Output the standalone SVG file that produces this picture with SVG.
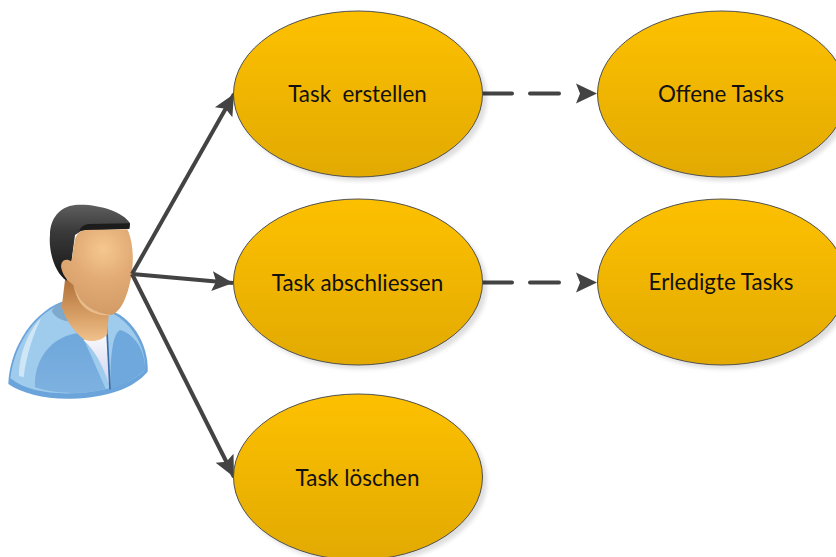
<svg xmlns="http://www.w3.org/2000/svg" width="836" height="557" viewBox="0 0 836 557">
<style>
.uc{fill:url(#gold);stroke:#505050;stroke-width:1}
.sh{fill:#000;opacity:.13;filter:url(#blur)}
.lb{font-family:Lato,"Open Sans",sans-serif;font-size:22.400px;fill:#111;text-anchor:middle;dominant-baseline:central;white-space:pre}
.c{fill:none;stroke:#434343;stroke-width:4}
.d{stroke-dasharray:29 18;stroke-linecap:round}
.ah{fill:#434343}
</style>
<defs>
<linearGradient id="gold" x1="0" y1="0" x2="0" y2="1"><stop offset="0" stop-color="#fdc000"/><stop offset="1" stop-color="#e2aa02"/></linearGradient>
<filter id="blur" x="-10%" y="-10%" width="120%" height="120%"><feGaussianBlur stdDeviation="2"/></filter>
<filter id="soft" x="-10%" y="-10%" width="120%" height="120%"><feGaussianBlur stdDeviation="3"/></filter>
<marker id="a" markerUnits="userSpaceOnUse" markerWidth="24" markerHeight="24" refX="21" refY="12" orient="auto"><path d="M0,2 L21,12 L0,22 L4,12Z" class="ah"/></marker>
<radialGradient id="skin" gradientUnits="userSpaceOnUse" cx="190" cy="150" r="200"><stop offset="0" stop-color="#f5c78f"/><stop offset=".45" stop-color="#e2ab75"/><stop offset="1" stop-color="#d29a64"/></radialGradient>
<linearGradient id="neck" x1="0" y1="0" x2="0" y2="1"><stop offset="0" stop-color="#b0723a"/><stop offset=".6" stop-color="#d8a066"/><stop offset="1" stop-color="#f0c28e"/></linearGradient>
<linearGradient id="hair" x1="0" y1="0" x2="0" y2="1"><stop offset="0" stop-color="#5e5e5e"/><stop offset=".35" stop-color="#3a3a3a"/><stop offset="1" stop-color="#161616"/></linearGradient>
<linearGradient id="jacket" x1="0" y1="0" x2="0" y2="1"><stop offset="0" stop-color="#9fcbec"/><stop offset="1" stop-color="#9fcbec"/></linearGradient>
<linearGradient id="inner" x1="0" y1="0" x2="0" y2="1"><stop offset="0" stop-color="#6ea7db"/><stop offset="1" stop-color="#7db1e0"/></linearGradient>
<linearGradient id="shirt" x1="0" y1="0" x2="0" y2="1"><stop offset="0" stop-color="#fafafd"/><stop offset="1" stop-color="#d0d3f2"/></linearGradient>
</defs>
<g id="actor">
<g transform="translate(5 290) scale(.3333)">
<path d="M10,282C12,190 70,75 170,35L310,60C375,75 432,160 428,245C385,295 310,322 200,326C120,328 50,310 10,282Z" fill="#6ba4da"/>
<path d="M16,265C25,180 80,75 170,42L310,65C370,85 425,165 420,240C380,280 310,305 200,310C125,312 55,298 16,265Z" fill="url(#jacket)"/>
<path d="M90,292C85,215 135,135 228,128L302,296C240,316 150,312 90,292Z" fill="url(#inner)"/>
<path d="M316,296C316,210 320,135 345,120C395,135 422,190 420,240C390,268 350,288 316,296Z" fill="#6fa8dc"/>
<path d="M42,258C42,190 72,120 108,85C85,135 64,195 56,262Z" fill="#cfe6f6"/>
<path d="M140,62C150,48 162,40 175,37L195,95C175,92 150,85 140,62Z" fill="#7ea9cc"/>
<path d="M235,150L305,130L313,285C295,230 270,180 235,150Z" fill="url(#shirt)"/>
<path d="M305,105L315,298" fill="none" stroke="#3d6da9" stroke-width="5"/>
<path d="M180,-30L170,52C185,95 210,130 240,150C265,158 295,150 307,132L312,60L340,-30Z" fill="url(#neck)"/>
</g>
<g transform="translate(40 200) scale(.3333)">
<path d="M30,105C30,55 60,20 105,15C170,10 250,35 270,70L268,86L125,92L105,105L95,180L80,242C45,220 25,155 30,105Z" fill="url(#hair)"/>
<path d="M118,92C122,80 135,72 150,72L270,70L268,86L125,92Z" fill="#1c1c1c"/>
<path d="M103,130C105,105 120,92 135,90L262,88C282,130 284,200 267,260C257,300 240,335 215,345C160,345 110,315 100,255C85,245 70,230 64,205C60,185 75,170 95,185C97,165 100,150 103,130Z" fill="url(#skin)"/>
<path d="M105,265C120,315 165,340 215,345C165,352 112,325 105,265Z" fill="#e8bb8a"/>
</g>
</g>
<g id="connectors">
<path class="c" d="M132,274L234,94" marker-end="url(#a)"/>
<path class="c" d="M132,274L233,283" marker-end="url(#a)"/>
<path class="c" d="M132,274L234,477" marker-end="url(#a)"/>
<path class="c d" d="M483,93.500H577"/>
<path d="M576,83.500L597,93.500L576,103.500L580,93.500Z" class="ah"/>
<path class="c d" d="M483,282.500H577"/>
<path d="M576,272.500L597,282.500L576,292.500L580,282.500Z" class="ah"/>
</g>
<g id="n1"><ellipse class="sh" cx="362" cy="98" rx="125" ry="83"/><ellipse class="uc" cx="358" cy="94" rx="124.500" ry="83"/><text class="lb" x="357.500" y="93">Task  erstellen</text></g>
<g id="n2"><ellipse class="sh" cx="362" cy="286" rx="125" ry="83"/><ellipse class="uc" cx="358" cy="282" rx="124.500" ry="83"/><text class="lb" x="357.500" y="282">Task abschliessen</text></g>
<g id="n3"><ellipse class="sh" cx="362" cy="481" rx="125" ry="83"/><ellipse class="uc" cx="358" cy="477" rx="124.500" ry="83"/><text class="lb" x="357.500" y="477">Task löschen</text></g>
<g id="n4"><ellipse class="sh" cx="726" cy="98" rx="125" ry="83"/><ellipse class="uc" cx="722" cy="94" rx="124.500" ry="83"/><text class="lb" x="721" y="93">Offene Tasks</text></g>
<g id="n5"><ellipse class="sh" cx="726" cy="286" rx="125" ry="83"/><ellipse class="uc" cx="722" cy="282" rx="124.500" ry="83"/><text class="lb" x="721" y="281">Erledigte Tasks</text></g>
</svg>
